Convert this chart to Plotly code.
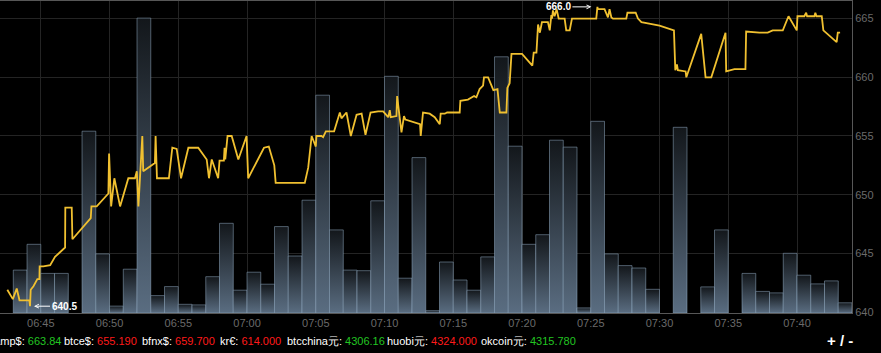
import plotly.graph_objects as go
import pandas as pd

DAY = "2014-06-16 "

# ---- trade price series (time, USD) ----
price_times = [
    "06:42:34", "06:42:58", "06:43:15", "06:43:27", "06:44:10", "06:44:13", "06:44:16", "06:44:28",
    "06:44:45", "06:44:54", "06:44:55", "06:45:11", "06:45:41", "06:46:02", "06:46:46", "06:46:47",
    "06:47:15", "06:47:18", "06:48:38", "06:48:41", "06:49:04", "06:49:48", "06:49:55", "06:49:58",
    "06:50:07", "06:50:21", "06:50:46", "06:51:22", "06:51:51", "06:51:59", "06:52:06", "06:52:23",
    "06:52:27", "06:53:18", "06:53:21", "06:53:27", "06:54:19", "06:54:34", "06:54:53", "06:55:12",
    "06:55:44", "06:56:27", "06:57:04", "06:57:14", "06:57:26", "06:57:54", "06:58:00", "06:58:19",
    "06:58:22", "06:58:25", "06:58:35", "06:58:53", "06:59:22", "06:59:58", "07:00:05", "07:01:14",
    "07:01:35", "07:01:59", "07:02:05", "07:04:12", "07:04:27", "07:04:42", "07:05:00", "07:05:03",
    "07:05:25", "07:05:32", "07:05:44", "07:06:20", "07:06:45", "07:06:52", "07:07:14", "07:07:33",
    "07:07:58", "07:08:20", "07:08:37", "07:08:59", "07:09:32", "07:09:54", "07:10:16", "07:10:23",
    "07:10:27", "07:10:52", "07:10:55", "07:11:14", "07:11:25", "07:11:31", "07:12:35", "07:12:38",
    "07:12:48", "07:13:17", "07:13:39", "07:14:01", "07:14:05", "07:14:23", "07:14:33", "07:15:28",
    "07:15:31", "07:16:04", "07:16:31", "07:16:41", "07:16:55", "07:17:10", "07:17:14", "07:17:32",
    "07:17:55", "07:18:13", "07:18:23", "07:18:52", "07:18:56", "07:19:06", "07:19:14", "07:20:00",
    "07:20:45", "07:20:51", "07:21:03", "07:21:10", "07:21:18", "07:21:27", "07:21:53", "07:22:01",
    "07:22:08", "07:22:11", "07:22:15", "07:22:22", "07:22:31", "07:22:40", "07:23:06", "07:23:13",
    "07:23:28", "07:23:38", "07:25:24", "07:25:29", "07:25:31", "07:26:00", "07:26:15", "07:26:22",
    "07:26:30", "07:26:37", "07:27:35", "07:27:40", "07:28:16", "07:28:26", "07:28:41", "07:29:09",
    "07:29:31", "07:30:00", "07:31:03", "07:31:09", "07:31:16", "07:31:20", "07:31:54", "07:31:57",
    "07:33:02", "07:33:21", "07:33:46", "07:34:48", "07:34:51", "07:35:27", "07:36:15", "07:36:18",
    "07:37:16", "07:37:52", "07:38:14", "07:38:58", "07:39:23", "07:39:59", "07:40:02", "07:40:32",
    "07:40:40", "07:40:44", "07:41:16", "07:41:20", "07:41:25", "07:41:48", "07:41:55", "07:42:53",
    "07:42:58", "07:43:08",
]
price_values = [
    641.9, 641.1, 642.0, 641.0, 641.0, 640.5, 641.9, 642.2,
    642.8, 642.8, 643.9, 643.9, 644.0, 644.7, 645.5, 648.9,
    648.9, 646.2, 648.0, 649.0, 649.0, 650.0, 650.1, 653.5,
    649.0, 651.4, 649.0, 651.4, 651.4, 652.0, 649.0, 655.0,
    652.0, 652.7, 655.0, 651.4, 651.4, 654.0, 653.9, 651.4,
    654.0, 654.0, 653.0, 651.4, 653.0, 651.4, 652.9, 652.9,
    654.0, 653.0, 655.0, 655.0, 653.0, 655.0, 651.4, 654.0,
    654.1, 652.5, 651.0, 651.0, 652.3, 655.0, 654.1, 655.0,
    655.0, 654.9, 655.4, 655.4, 657.0, 656.5, 657.0, 655.0,
    656.8, 656.9, 655.1, 657.0, 657.1, 657.1, 656.6, 657.2,
    656.6, 656.7, 658.4, 655.3, 656.7, 656.4, 656.0, 655.0,
    657.0, 656.9, 656.6, 656.0, 656.9, 656.9, 657.0, 657.0,
    658.0, 658.1, 658.4, 658.3, 659.0, 659.3, 660.0, 660.0,
    658.9, 659.0, 657.0, 657.0, 659.1, 659.5, 662.0, 662.0,
    661.0, 662.1, 662.1, 664.5, 663.8, 664.7, 664.7, 664.0,
    665.3, 665.0, 665.7, 665.2, 665.8, 665.0, 665.0, 664.0,
    664.0, 665.0, 665.0, 666.0, 665.8, 665.8, 665.1, 665.8,
    665.1, 665.0, 665.0, 665.5, 665.5, 665.0, 664.7, 664.6,
    664.5, 664.4, 664.0, 660.6, 661.1, 660.6, 660.5, 660.0,
    663.7, 660.0, 660.0, 663.8, 660.5, 660.7, 660.7, 663.9,
    663.8, 663.8, 664.0, 664.0, 665.2, 664.0, 665.2, 665.2,
    665.5, 665.2, 665.2, 665.5, 665.2, 665.2, 664.0, 663.0,
    663.8, 663.8,
]

# ---- per-minute volume (first bar starts 06:43) ----
volume_start = "06:43"
volumes = [
    14.3, 22.9, 13.2, 13.2, 0.0, 60.6, 19.7, 2.3, 14.6, 98.3,
    5.8, 8.8, 2.9, 2.7, 12.1, 29.9, 7.6, 13.6, 9.6, 28.8,
    19.0, 37.6, 72.6, 27.7, 14.3, 14.1, 37.4, 78.9, 11.6, 51.8,
    0.8, 17.0, 11.0, 7.6, 18.7, 85.4, 55.6, 22.9, 26.1, 57.6,
    55.3, 1.7, 63.9, 19.7, 15.8, 15.0, 7.9, 0.0, 61.9, 0.0,
    8.7, 27.7, 0.0, 13.2, 7.2, 6.7, 19.9, 12.6, 9.7, 10.7,
    3.4,
]

# ---- ticker strip ----
ticker_names = ["bitstamp$", "btce$", "bfnx$", "kr€", "btcchina元", "huobi元", "okcoin元"]
ticker_values = ["663.84", "655.190", "659.700", "614.000", "4306.16", "4324.000", "4315.780"]
ticker_up = [True, False, False, False, True, False, True]

GREEN = "#22c522"
RED = "#ff1a1a"
GOLD = "#f0c030"
FONT = "Liberation Sans, Arial, sans-serif"
PLOT_W = 852.0
PLOT_H = 312.0

fig = go.Figure()

# volume bars with vertical gradient
bar_starts = pd.date_range(DAY + volume_start, periods=len(volumes), freq="1min")
for t0, v in zip(bar_starts, volumes):
    if v <= 0:
        continue
    t1 = t0 + pd.Timedelta(minutes=1)
    fig.add_trace(go.Scatter(
        x=[t0, t0, t1, t1, t0], y=[0, v, v, 0, 0],
        mode="lines", fill="toself",
        fillgradient=dict(type="vertical", start=0, stop=v,
                          colorscale=[[0, "#5a6d81"], [1, "#13171b"]]),
        line=dict(color="rgba(150,175,200,0.5)", width=1),
        yaxis="y", hoverinfo="skip", showlegend=False,
    ))

# price line
px_times = [pd.Timestamp(DAY + t) for t in price_times]
fig.add_trace(go.Scatter(
    x=px_times, y=price_values, mode="lines",
    line=dict(color=GOLD, width=1.8), yaxis="y2", showlegend=False,
))

# min / max flags
imin = price_values.index(min(price_values))
imax = price_values.index(max(price_values))
fig.add_annotation(x=px_times[imin], y=price_values[imin], xref="x", yref="y2",
                   text="<b>%.1f</b>" % price_values[imin], showarrow=True,
                   ax=34, ay=0, arrowhead=5, arrowsize=0.8, arrowwidth=1, arrowcolor="#ffffff",
                   standoff=4, font=dict(color="#ffffff", size=10, family=FONT))
fig.add_annotation(x=px_times[imax], y=price_values[imax], xref="x", yref="y2",
                   text="<b>%.1f</b>" % price_values[imax], showarrow=True,
                   ax=-39, ay=0, arrowhead=5, arrowsize=0.8, arrowwidth=1, arrowcolor="#ffffff",
                   standoff=6, font=dict(color="#ffffff", size=10, family=FONT))

# ticker items, each placed at its own left pixel position in the bottom strip
ticker_left_px = [-26.3, 64.3, 142.3, 220, 287.3, 386.7, 480.7]
ticker_y = -(341 - 313) / PLOT_H
for n, v, up, lx in zip(ticker_names, ticker_values, ticker_up, ticker_left_px):
    txt = '%s: <span style="color:%s">%s</span>' % (n, GREEN if up else RED, v)
    fig.add_annotation(x=lx / PLOT_W, y=ticker_y, xref="paper", yref="paper",
                       xanchor="left", yanchor="middle", text=txt, showarrow=False,
                       borderpad=0, borderwidth=0,
                       font=dict(color="#ffffff", size=11, family=FONT))
fig.add_annotation(x=839.5 / PLOT_W, y=ticker_y, xref="paper", yref="paper", xanchor="center",
                   yanchor="middle", text="<b>+ / -</b>", showarrow=False,
                   font=dict(color="#ffffff", size=15, family=FONT))

fig.update_layout(
    width=881, height=353,
    margin=dict(l=0, r=29, t=1, b=40),
    paper_bgcolor="#000000", plot_bgcolor="#000000",
    showlegend=False,
    xaxis=dict(type="date", range=[DAY + "06:42:02", DAY + "07:44:00"],
               tickformat="%H:%M", dtick=300000, tick0=DAY + "00:00:00",
               showgrid=True, gridcolor="#242424", gridwidth=1,
               showline=True, linecolor="#575757", linewidth=1, mirror=True,
               ticks="", zeroline=False,
               tickfont=dict(color="#6a6a6a", size=11, family=FONT)),
    yaxis=dict(range=[0, 104], visible=False, showgrid=False, zeroline=False),
    yaxis2=dict(overlaying="y", side="right", range=[639.92, 666.5],
                dtick=5, tick0=640, showgrid=True, gridcolor="#242424",
                showline=True, linecolor="#575757", linewidth=1,
                ticks="", zeroline=False,
                tickfont=dict(color="#6a6a6a", size=11, family=FONT)),
)

fig.write_html("out.html")
